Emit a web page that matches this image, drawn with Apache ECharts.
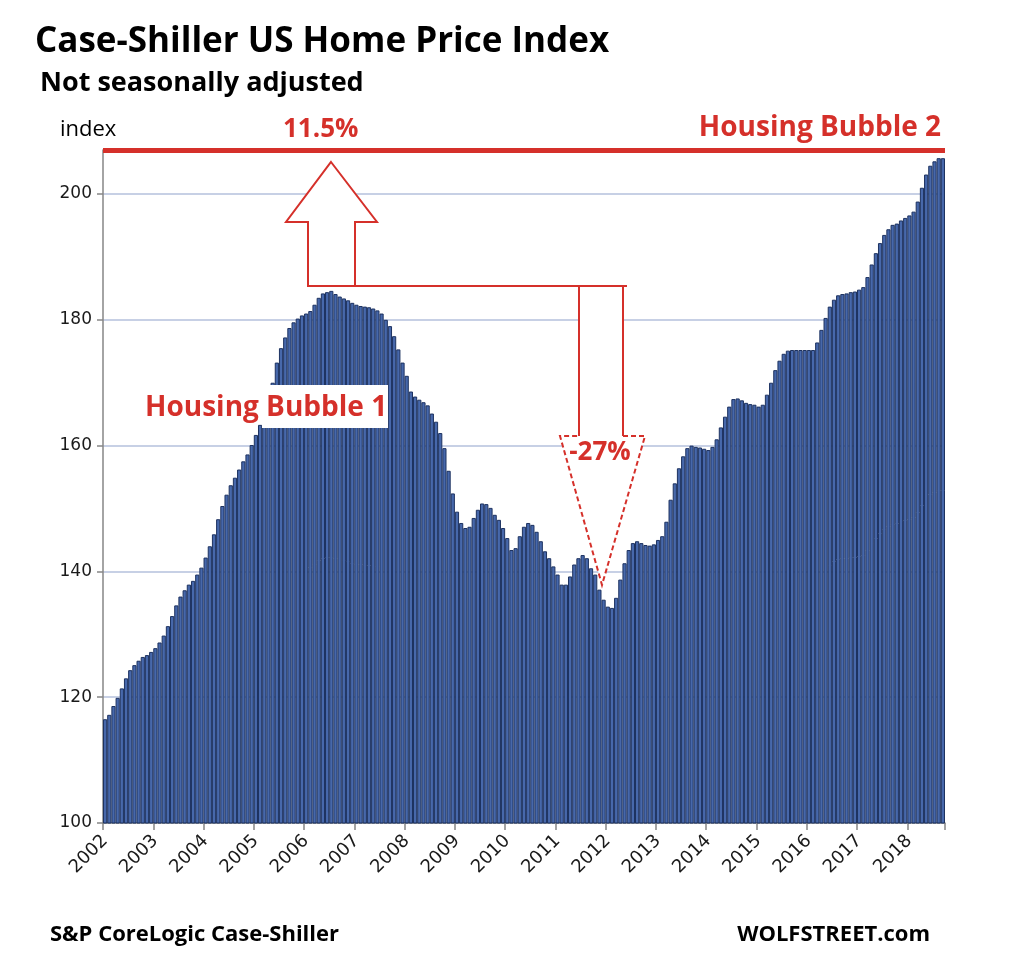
<!DOCTYPE html>
<html><head><meta charset="utf-8">
<script src="https://cdn.jsdelivr.net/npm/echarts@6/dist/echarts.min.js"></script>
<style>html,body{margin:0;padding:0;background:#fff}#c{width:1026px;height:973px}</style>
</head><body><div id="c"></div>
<script>
// ---- data ----
const years = ['2002','2003','2004','2005','2006','2007','2008','2009','2010','2011','2012','2013','2014','2015','2016','2017','2018'];
const y2002 = [116.5, 117.2, 118.6, 119.9, 121.4, 123.0, 124.3, 125.1, 125.8, 126.4, 126.7, 127.2];
const y2003 = [127.8, 128.7, 129.8, 131.3, 132.9, 134.6, 136.0, 137.0, 137.9, 138.5, 139.5, 140.6];
const y2004 = [142.2, 144.0, 145.9, 148.3, 150.4, 152.2, 153.7, 154.9, 156.2, 157.5, 158.6, 160.1];
const y2005 = [161.7, 163.3, 165.3, 167.4, 170.0, 173.2, 175.5, 177.2, 178.7, 179.6, 180.2, 180.7];
const y2006 = [181.0, 181.4, 182.4, 183.5, 184.2, 184.4, 184.6, 184.1, 183.7, 183.4, 183.1, 182.7];
const y2007 = [182.4, 182.2, 182.1, 182.0, 181.8, 181.5, 181.0, 180.0, 179.0, 177.4, 175.3, 173.2];
const y2008 = [171.1, 168.6, 167.8, 167.3, 166.9, 166.4, 165.1, 163.8, 162.0, 159.6, 156.0, 152.4];
const y2009 = [149.5, 147.7, 146.9, 147.1, 148.5, 149.8, 150.8, 150.7, 150.1, 149.0, 148.2, 146.9];
const y2010 = [145.3, 143.4, 143.7, 145.6, 147.1, 147.7, 147.4, 146.3, 144.8, 143.2, 142.1, 140.8];
const y2011 = [139.5, 137.9, 137.9, 139.2, 141.1, 142.1, 142.6, 142.1, 140.5, 139.5, 137.1, 135.5];
const y2012 = [134.4, 134.2, 135.8, 138.7, 141.3, 143.4, 144.5, 144.8, 144.5, 144.2, 144.1, 144.3];
const y2013 = [145.0, 145.6, 147.9, 151.4, 154.0, 156.4, 158.3, 159.6, 160.0, 159.8, 159.7, 159.5];
const y2014 = [159.3, 159.8, 161.0, 162.9, 164.6, 166.2, 167.4, 167.5, 167.2, 166.8, 166.6, 166.5];
const y2015 = [166.2, 166.5, 168.1, 170.0, 172.0, 173.5, 174.6, 175.1, 175.2, 175.2, 175.2, 175.2];
const y2016 = [175.2, 175.2, 176.4, 178.4, 180.3, 182.1, 183.2, 183.9, 184.1, 184.2, 184.4, 184.5];
const y2017 = [184.8, 185.2, 186.8, 188.8, 190.6, 192.2, 193.5, 194.4, 195.1, 195.3, 195.8, 196.2];
const y2018 = [196.6, 197.2, 198.8, 201.0, 203.1, 204.5, 205.2, 205.7, 205.7];
const monthly = [y2002,y2003,y2004,y2005,y2006,y2007,y2008,y2009,y2010,y2011,y2012,y2013,y2014,y2015,y2016,y2017,y2018];
const bubble2Level = 207;   // red "Housing Bubble 2" line

const categories = [];
const values = [];
years.forEach((y, i) => monthly[i].forEach((v, m) => {
  categories.push(y + '-' + String(m + 1).padStart(2, '0'));
  values.push(v);
}));

// ---- chart ----
const RED = '#d5302a';
const FONT = '"Open Sans", "Liberation Sans", sans-serif';
const AXFONT = '"DejaVu Sans", sans-serif';
const chart = echarts.init(document.getElementById('c'), null, {renderer: 'canvas'});
const isJan = (i) => i % 12 === 0;

chart.setOption({
  animation: false,
  backgroundColor: '#ffffff',
  grid: {left: 103, right: 81, top: 150, bottom: 150},
  xAxis: {
    type: 'category', data: categories, boundaryGap: true,
    axisLine: {lineStyle: {color: '#868686', width: 1.5}},
    axisTick: {show: true, interval: isJan, length: 7, lineStyle: {color: '#868686', width: 1.5}},
    axisLabel: {interval: isJan, formatter: (v) => v.slice(0, 4), rotate: 45, fontSize: 18,
      color: '#1a1a1a', fontFamily: AXFONT, margin: 15},
    splitLine: {show: false}
  },
  yAxis: {
    type: 'value', min: 100, max: bubble2Level, interval: 20,
    axisLine: {show: true, lineStyle: {color: '#868686', width: 1.5}},
    axisTick: {show: true, length: 6, lineStyle: {color: '#868686', width: 1.5}},
    axisLabel: {fontSize: 17, color: '#1a1a1a', fontFamily: AXFONT, margin: 11, showMaxLabel: false},
    splitLine: {show: true, showMaxLine: false, lineStyle: {color: '#b4c0dc', width: 1.5}}
  },
  series: [{
    type: 'bar', data: values, barCategoryGap: '0%',
    itemStyle: {color: '#4768ab', borderColor: '#1d3260', borderWidth: 1},
    markLine: {
      silent: true, symbol: ['none', 'none'], label: {show: false},
      lineStyle: {color: RED, width: 5, type: 'solid'},
      data: [{yAxis: bubble2Level}]
    }
  }],
  graphic: [
    {type: 'text', z: 100, style: {text: 'Case-Shiller US Home Price Index', x: 35, y: 42, verticalAlign: 'middle', font: 'bold 35px ' + FONT, fill: '#000'}},
    {type: 'text', z: 100, style: {text: 'Not seasonally adjusted', x: 40, y: 83, verticalAlign: 'middle', font: 'bold 27px ' + FONT, fill: '#000'}},
    {type: 'text', z: 100, style: {text: 'index', x: 60, y: 130, verticalAlign: 'middle', font: '22px ' + FONT, fill: '#000'}},
    {type: 'text', z: 100, style: {text: '11.5%', x: 283, y: 130, verticalAlign: 'middle', font: 'bold 26px ' + FONT, fill: RED}},
    {type: 'text', z: 100, style: {text: 'Housing Bubble 2', x: 941, y: 128, align: 'right', verticalAlign: 'middle', font: 'bold 28px ' + FONT, fill: RED}},
    // up arrow
    {type: 'polygon', z: 100, shape: {points: [[331,162],[377,222],[355,222],[355,286],[308,286],[308,222],[286,222]]},
      style: {fill: '#fff', stroke: RED, lineWidth: 2}},
    // down arrow (fill, solid shaft, dashed head)
    {type: 'polygon', z: 100, shape: {points: [[579,286],[623,286],[623,436],[645,436],[602,585],[560,436],[579,436]]},
      style: {fill: '#fff', stroke: null}},
    {type: 'polyline', z: 101, shape: {points: [[579,436],[579,286],[623,286],[623,436]]},
      style: {fill: null, stroke: RED, lineWidth: 2}},
    {type: 'polyline', z: 101, shape: {points: [[623,436],[645,436],[602,585],[560,436],[579,436]]},
      style: {fill: null, stroke: RED, lineWidth: 2, lineDash: [5, 3]}},
    {type: 'line', z: 101, shape: {x1: 308, y1: 286, x2: 627, y2: 286}, style: {stroke: RED, lineWidth: 2}},
    {type: 'text', z: 102, style: {text: '-27%', x: 600, y: 453, align: 'center', verticalAlign: 'middle', font: 'bold 26px ' + FONT, fill: RED}},
    // Housing Bubble 1 label with white box
    {type: 'rect', z: 100, shape: {x: 262, y: 385, width: 126, height: 43}, style: {fill: '#fff'}},
    {type: 'text', z: 101, style: {text: 'Housing Bubble 1', x: 145, y: 408, verticalAlign: 'middle', font: 'bold 28px ' + FONT, fill: RED}},
    // footer
    {type: 'text', z: 100, style: {text: 'S&P CoreLogic Case-Shiller', x: 50, y: 935, verticalAlign: 'middle', font: 'bold 22px ' + FONT, fill: '#000'}},
    {type: 'text', z: 100, style: {text: 'WOLFSTREET.com', x: 930, y: 935, align: 'right', verticalAlign: 'middle', font: 'bold 22px ' + FONT, fill: '#000'}}
  ]
});
</script>
</body></html>
